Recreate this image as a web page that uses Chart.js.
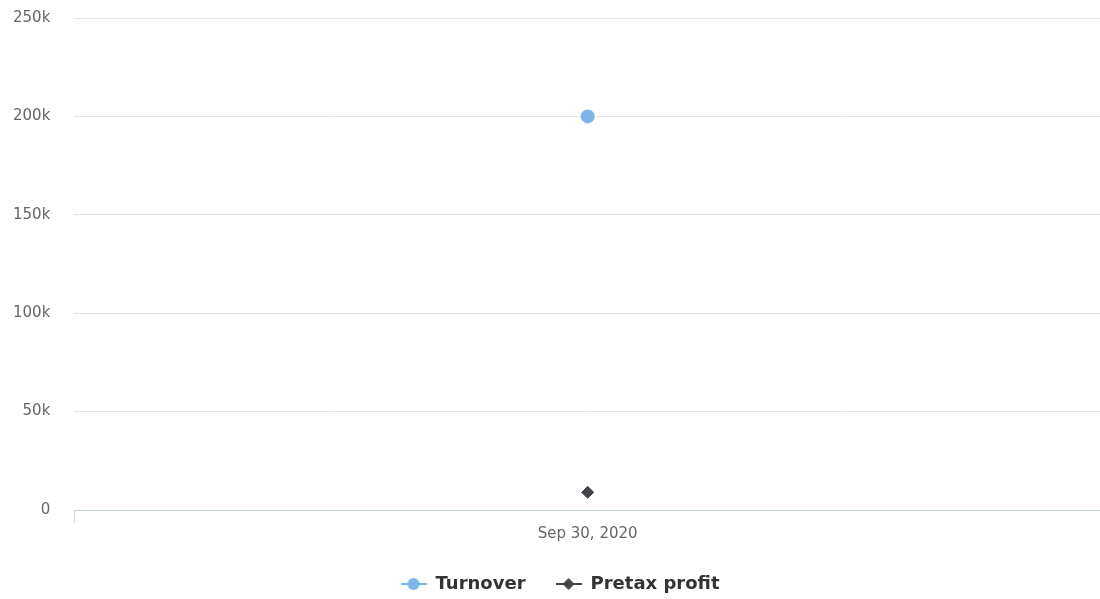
<!DOCTYPE html>
<html>
<head>
<meta charset="utf-8">
<script src="https://cdn.jsdelivr.net/npm/chart.js@4/dist/chart.umd.min.js"></script>
<style>
  html, body { margin: 0; padding: 0; background: #fff; overflow: hidden; width: 1100px; height: 599px; }
  canvas { display: block; }
</style>
</head>
<body>
<canvas id="finChart" width="1109" height="599"></canvas>
<script>
const categories = ['Sep 30, 2020'];
const turnover = [200000];
const pretaxProfit = [9000];
const yTicks = [0, 50000, 100000, 150000, 200000, 250000];

// legend symbol: short line with the marker on top
function legendIcon(color, shape) {
    const c = document.createElement('canvas');
    c.width = 26; c.height = 14;
    const g = c.getContext('2d');
    g.strokeStyle = color;
    g.lineWidth = 2;
    g.beginPath(); g.moveTo(0, 7); g.lineTo(26, 7); g.stroke();
    g.fillStyle = color;
    g.beginPath();
    if (shape === 'circle') {
        g.arc(13, 7, 6, 0, Math.PI * 2);
    } else {
        g.moveTo(13, 1); g.lineTo(19, 7); g.lineTo(13, 13); g.lineTo(7, 7); g.closePath();
    }
    g.fill();
    return c;
}

document.addEventListener('DOMContentLoaded', () => {
    const ctx = document.getElementById('finChart').getContext('2d');
    const icons = [legendIcon('#7cb5ec', 'circle'), legendIcon('#434348', 'diamond')];
    new Chart(ctx, {
        type: 'line',
        data: {
            labels: categories,
            datasets: [{
                label: 'Turnover',
                data: turnover,
                borderColor: '#7cb5ec',
                backgroundColor: '#7cb5ec',
                pointStyle: 'circle',
                pointRadius: 6,
                pointHoverRadius: 6,
                borderWidth: 2
            }, {
                label: 'Pretax profit',
                data: pretaxProfit,
                borderColor: '#434348',
                backgroundColor: '#434348',
                pointStyle: 'rectRot',
                pointRadius: 6,
                pointHoverRadius: 6,
                borderWidth: 1
            }]
        },
        options: {
            responsive: false,
            animation: false,
            devicePixelRatio: 1,
            layout: { padding: { top: 18, right: 0, left: 11, bottom: -4 } },
            plugins: {
                tooltip: { enabled: false },
                legend: {
                    position: 'bottom',
                    labels: {
                        usePointStyle: true,
                        pointStyleWidth: 26,
                        padding: 30,
                        color: '#333333',
                        font: { family: 'DejaVu Sans', size: 18, weight: 'bold' },
                        generateLabels: (chart) => chart.data.datasets.map((ds, i) => ({
                            text: ds.label,
                            pointStyle: icons[i],
                            fontColor: '#333333',
                            datasetIndex: i,
                            hidden: false
                        }))
                    }
                }
            },
            scales: {
                x: {
                    offset: true,
                    grid: { display: true, offset: true, drawOnChartArea: false, color: '#ccd6eb', tickLength: 13 },
                    border: { color: '#ccd6eb' },
                    ticks: { color: '#666666', font: { family: 'DejaVu Sans', size: 15 }, padding: 2 }
                },
                y: {
                    min: 0,
                    max: 250000,
                    afterBuildTicks: (axis) => { axis.ticks = yTicks.map(v => ({ value: v })); },
                    grid: { color: '#e6e6e6', drawTicks: true, tickLength: 22, tickColor: 'rgba(0,0,0,0)' },
                    border: { display: false },
                    ticks: {
                        color: '#666666',
                        padding: 2,
                        font: { family: 'DejaVu Sans', size: 15 },
                        callback: (v) => v === 0 ? '0' : (v / 1000) + 'k'
                    }
                }
            }
        }
    });
});
</script>
</body>
</html>
